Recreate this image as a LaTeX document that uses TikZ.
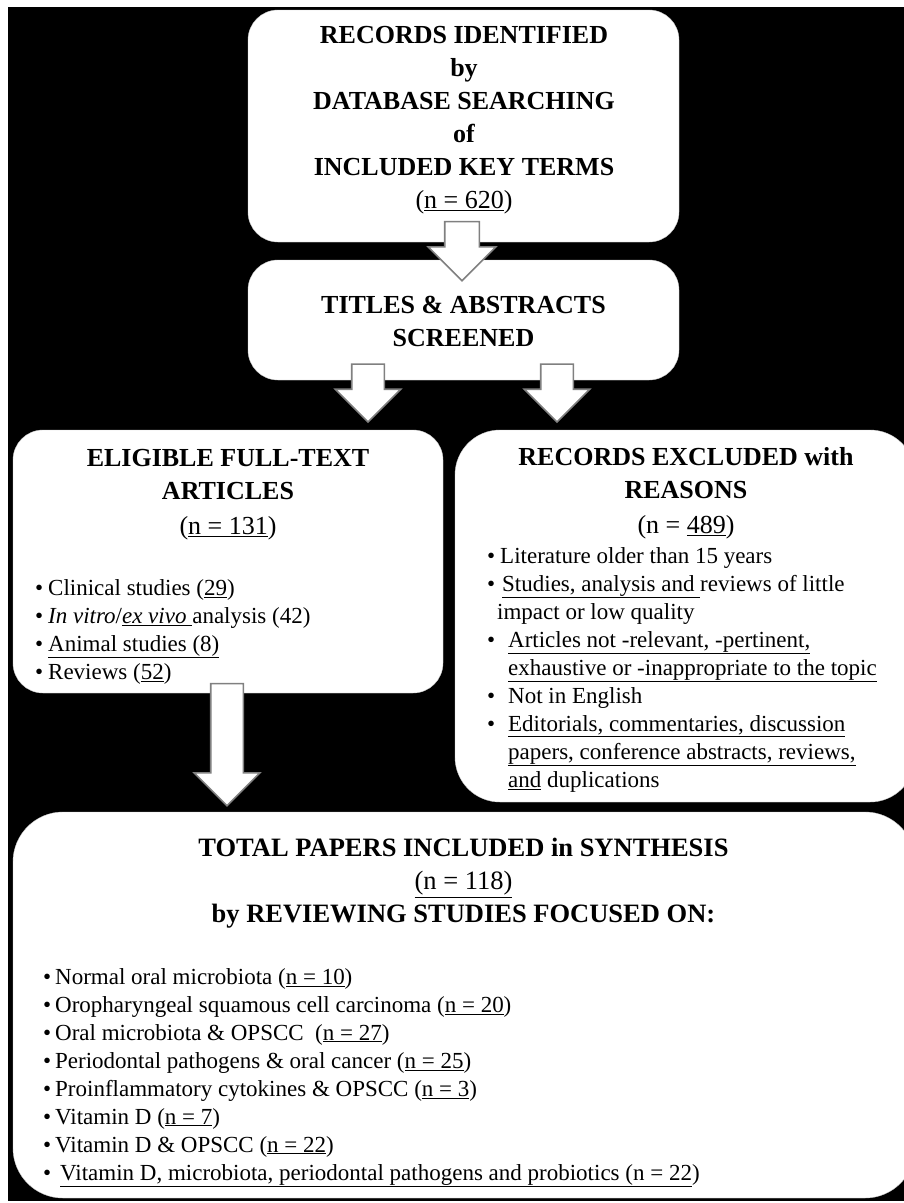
\documentclass[tikz,border=0pt]{standalone}
\usepackage{fontspec}
\setmainfont{Liberation Serif}
\usetikzlibrary{positioning,calc,shapes.arrows}

\newcommand{\bul}[1]{\makebox[#1][l]{\textbullet}}

\begin{document}
\begin{tikzpicture}[
    x=1pt, y=-1pt,
    box/.style={draw=gray!40, fill=white, rounded corners=30pt, inner sep=0pt},
    barrow/.style={single arrow, draw=gray, fill=white, line width=1.6pt, rotate=-90, anchor=tip,
        inner xsep=0pt, inner ysep=15.5pt, single arrow head extend=16.5pt},
    head/.style={align=center, inner sep=0pt, font=\bfseries\fontsize{26}{33}\selectfont},
    body/.style={align=left, anchor=north west, inner sep=0pt, font=\fontsize{23}{28}\selectfont},
]
\useasboundingbox (0,0) rectangle (904,1203);
\clip (0,0) rectangle (904,1203);
\fill[black] (8,7) rectangle (904,1201);

% === Boxes ===
\node[box, minimum width=431pt, minimum height=232pt] (records) at (463.5,126) {};
\node[box, minimum width=431pt, minimum height=120pt] (screen) at (463.5,320) {};
\node[box, minimum width=430pt, minimum height=263pt] (eligible) at (228,561.5) {};
\node[box, minimum width=460pt, minimum height=372pt, rounded corners=45pt] (excluded) at (685,616) {};
\node[box, minimum width=902pt, minimum height=386pt, rounded corners=50pt] (total) at (464,1005) {};

% === Block arrows ===
\node[barrow, minimum height=59pt, inner ysep=16.5pt] (a1) at ($(screen.north)+(-1.5,22)$) {};
\node[barrow, minimum height=58pt] (a2) at ($(screen.south)+(-95.5,43)$) {};
\node[barrow, minimum height=58pt] (a3) at ($(screen.south)+(93.5,43)$) {};
\node[barrow, minimum height=122pt] (a4) at ($(total.north)+(-237,-5)$) {};

% === Headings ===
\node[head] (t-records) at (464,120) {RECORDS IDENTIFIED\\by\\DATABASE SEARCHING\\of\\INCLUDED KEY TERMS\\{\mdseries(\underline{n = 620})}};
\node[head] (t-screen) at (463.5,321.5) {TITLES \& ABSTRACTS\\SCREENED};
\node[head] (t-eligible) at (228,495) {ELIGIBLE FULL-TEXT\\ARTICLES\\[2pt]{\mdseries(\underline{n = 131})}};
\node[head] (t-excluded) at (686,493) {RECORDS EXCLUDED with\\REASONS\\[2pt]{\mdseries(n = \underline{489})}};
\node[head, font=\bfseries\fontsize{26.5}{33}\selectfont] (t-total) at (463.5,883.5) {TOTAL PAPERS INCLUDED in SYNTHESIS\\{\mdseries\underline{(n = 118)}}\\by REVIEWING STUDIES FOCUSED ON:};

% === Lists ===
\node[body] (l-eligible) at (35,579) {%
\bul{13pt}Clinical studies (\underline{29})\\
\bul{13pt}\textit{In vitro}/\underline{\textit{ex vivo} }analysis (42)\\
\bul{13pt}\underline{Animal studies (8)}\\
\bul{13pt}Reviews (\underline{52})};

\node[body] (l-excluded) at (487,547) {%
\bul{13pt}Literature older than 15 years\\
\bul{15pt}\underline{Studies, analysis and }reviews of little\\
\hspace*{10pt}impact or low quality\\
\bul{21pt}\underline{Articles not -relevant, -pertinent,}\\
\hspace*{21pt}\underline{exhaustive or -inappropriate to the topic}\\
\bul{21pt}Not in English\\
\bul{21pt}\underline{Editorials, commentaries, discussion}\\
\hspace*{21pt}\underline{papers, conference abstracts, reviews,}\\
\hspace*{21pt}\underline{and} duplications};

\node[body] (l-total) at (43,968) {%
\bul{12pt}Normal oral microbiota (\underline{n = 10})\\
\bul{12pt}Oropharyngeal squamous cell carcinoma (\underline{n = 20})\\
\bul{12pt}Oral microbiota \& OPSCC\ \ (\underline{n = 27})\\
\bul{12pt}Periodontal pathogens \& oral cancer (\underline{n = 25})\\
\bul{12pt}Proinflammatory cytokines \& OPSCC (\underline{n = 3})\\
\bul{12pt}Vitamin D (\underline{n = 7})\\
\bul{12pt}Vitamin D \& OPSCC (\underline{n = 22})\\
\bul{17pt}\underline{Vitamin D, microbiota, periodontal pathogens and probiotics (n = 22})};

\end{tikzpicture}
\end{document}
